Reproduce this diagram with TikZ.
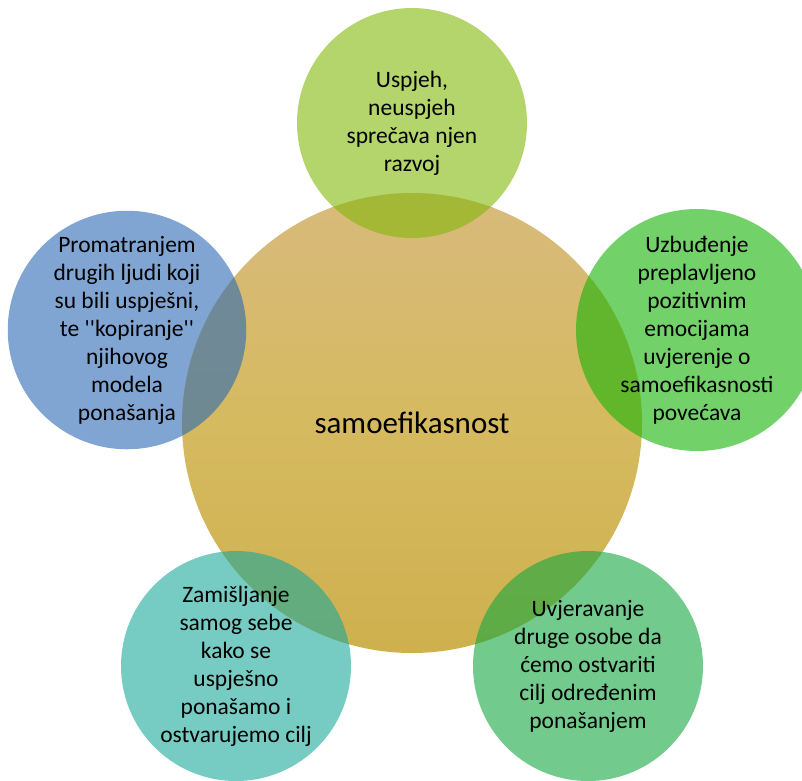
\documentclass[tikz,border=0pt]{standalone}
\usepackage{fontspec}
\newfontfamily\diagfont{Carlito}
\usetikzlibrary{positioning}

\definecolor{coreTop}{RGB}{216,186,124}
\definecolor{coreMid}{RGB}{214,186,96}
\definecolor{coreBot}{RGB}{206,176,78}
\definecolor{satA}{RGB}{130,183,10}
\definecolor{satB}{RGB}{20,180,5}
\definecolor{satC}{RGB}{20,168,65}
\definecolor{satD}{RGB}{27,168,155}
\definecolor{satE}{RGB}{43,105,180}

\begin{document}
\begin{tikzpicture}[x=1pt, y=1pt, on grid,
    core/.style={circle, minimum size=460pt, inner sep=0pt, align=center,
        top color=coreTop, bottom color=coreBot, middle color=coreMid,
        font=\diagfont\fontsize{31}{37}\selectfont},
    sat/.style={circle, minimum size=230pt, inner sep=0pt, align=center,
        fill=#1, fill opacity=0.6, text opacity=1,
        font=\diagfont\fontsize{23.5}{28}\selectfont}]

    \useasboundingbox (0,-780) rectangle (802,0);

    \node[core] (core) at (412,-423) {samoefikasnost};

    \node[sat=satA] (uspjeh) [above=300pt of core]
        {Uspjeh,\\neuspjeh\\sprečava njen\\razvoj};
    \node[sat=satB] (uzbudjenje) [above right=93pt and 285pt of core]
        {Uzbuđenje\\preplavljeno\\pozitivnim\\emocijama\\uvjerenje o\\samoefikasnosti\\povećava};
    \node[sat=satC] (uvjeravanje) [below right=243pt and 176pt of core]
        {Uvjeravanje\\druge osobe da\\ćemo ostvariti\\cilj određenim\\ponašanjem};
    \node[sat=satD] (zamisljanje) [below left=243pt and 176pt of core]
        {Zamišljanje\\samog sebe\\kako se\\uspješno\\ponašamo i\\ostvarujemo cilj};
    \node[sat=satE] (promatranje) [above left=93pt and 285pt of core]
        {Promatranjem\\drugih ljudi koji\\su bili uspješni,\\te ''kopiranje''\\njihovog\\modela\\ponašanja};

\end{tikzpicture}
\end{document}
